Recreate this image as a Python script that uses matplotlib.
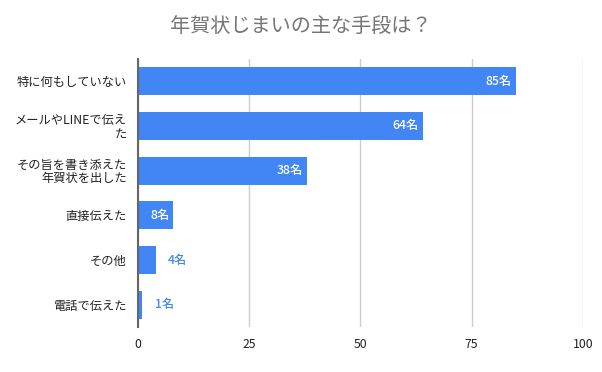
import numpy as np
import matplotlib
matplotlib.use("Agg")
import matplotlib.pyplot as plt

plt.rcParams['font.family'] = ['Noto Sans CJK JP', 'DejaVu Sans']

categories = ["特に何もしていない", "メールやLINEで伝え\nた", "その旨を書き添えた\n年賀状を出した",
              "直接伝えた", "その他", "電話で伝えた"]
values = [85, 64, 38, 8, 4, 1]
value_labels = ["85名", "64名", "38名", "8名", "4名", "1名"]
ticks = [0, 25, 50, 75, 100]
title = "年賀状じまいの主な手段は？"

blue = "#4285F4"

fig = plt.figure(figsize=(6.02, 3.72), dpi=100)
ax = fig.add_axes([0.229, 0.12, 0.739, 0.722])

y = np.arange(len(categories))
ax.barh(y, values, height=0.625, color=blue, zorder=3)
ax.set_ylim(len(categories) - 0.5, -0.5)
ax.set_xlim(0, 100)
ax.set_xticks(ticks)
ax.set_yticks(y)
ax.set_yticklabels(categories, fontsize=8.8, ha='right', linespacing=1.0)
ax.tick_params(axis='both', length=0, labelsize=8.8, colors='#222222')
ax.tick_params(axis='y', pad=8)
ax.tick_params(axis='x', pad=8)
ax.grid(axis='x', color='#cccccc', linewidth=1, zorder=0)
for s in ['top', 'right', 'bottom']:
    ax.spines[s].set_visible(False)
ax.spines['left'].set_color('#666666')
ax.spines['left'].set_linewidth(1.5)
ax.spines['left'].set_zorder(4)

for yi, v, lab in zip(y, values, value_labels):
    if v >= 8:
        ax.annotate(lab, (v, yi), xytext=(-3, 0), textcoords='offset points',
                    ha='right', va='center', color='white', fontsize=8.8,
                    fontweight='medium', zorder=5)
    else:
        ax.annotate(lab, (v, yi), xytext=(9, 0), textcoords='offset points',
                    ha='left', va='center', color=blue, fontsize=8.8,
                    fontweight='medium', zorder=5)

fig.text(0.5, 0.925, title, ha='center', va='center', fontsize=14.5, color='#757575')

fig.savefig("out.png", dpi=100)
